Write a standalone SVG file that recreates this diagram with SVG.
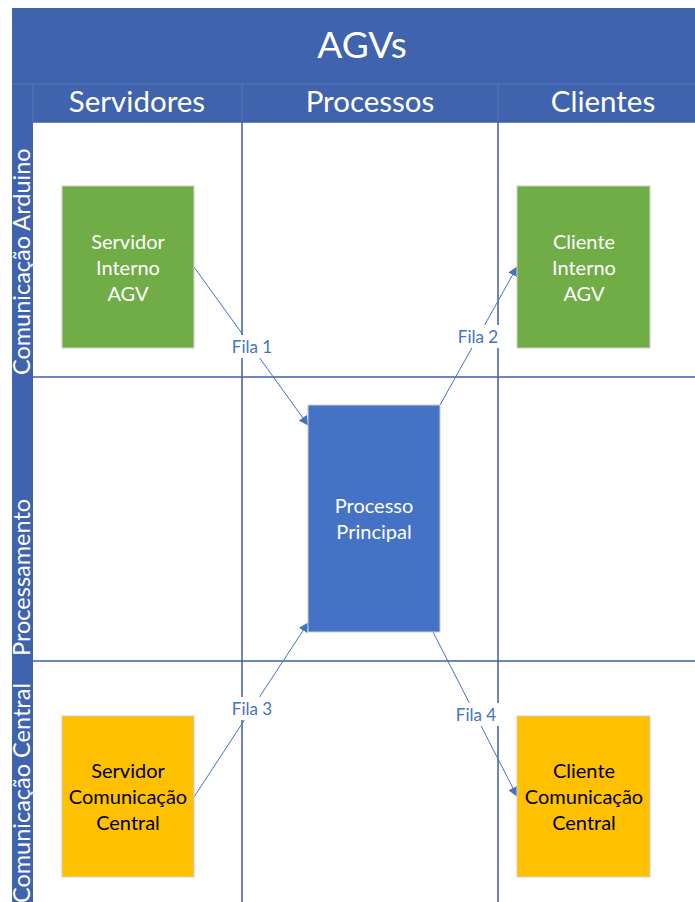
<svg xmlns="http://www.w3.org/2000/svg" width="695" height="902" viewBox="0 0 695 902">
  <style>
    .band { fill: #3F63AD; }
    .grid { stroke: #3F5EA6; stroke-width: 1.5; fill: none; }
    .hdrline { stroke: #5676BA; stroke-width: 1.2; }
    .title { font-family: Lato, "Liberation Sans", sans-serif; fill: #ffffff; text-anchor: middle; }
    .node rect { stroke: #D0D0D0; stroke-width: 1; }
    .ntext { font-family: Lato, "Liberation Sans", sans-serif; font-size: 20px; text-anchor: middle; }
    .conn { stroke: #4472C4; stroke-width: 1; fill: none; marker-end: url(#arrow); }
    .lbl { font-family: Lato, "Liberation Sans", sans-serif; font-size: 17px; fill: #4472C4; text-anchor: middle; }
  </style>
  <defs>
    <marker id="arrow" viewBox="0 0 10 10" refX="9" refY="5" markerWidth="10" markerHeight="10" markerUnits="userSpaceOnUse" orient="auto">
      <path d="M0,0 L10,5 L0,10 z" fill="#4472C4"/>
    </marker>
  </defs>

  <rect width="695" height="902" fill="#ffffff"/>

  <!-- pool header, column headers and lane header bands -->
  <g id="pool">
    <rect class="band" x="12" y="8" width="683" height="76"/>
    <rect class="band" x="12" y="84" width="683" height="38"/>
    <rect class="band" x="12" y="84" width="21" height="818"/>
    <line class="hdrline" x1="12" y1="84" x2="695" y2="84"/>
    <line class="hdrline" x1="33" y1="84" x2="33" y2="122"/>
    <line class="hdrline" x1="242" y1="84" x2="242" y2="122"/>
    <line class="hdrline" x1="498" y1="84" x2="498" y2="122"/>
    <text class="title" x="362" y="58" font-size="37">AGVs</text>
    <text class="title" x="137" y="112" font-size="29.5">Servidores</text>
    <text class="title" x="370" y="112" font-size="29.5">Processos</text>
    <text class="title" x="603" y="112" font-size="29.5">Clientes</text>
  </g>

  <!-- lane titles -->
  <g id="lanes" font-family="Lato, 'Liberation Sans', sans-serif" font-size="23.5" fill="#ffffff">
    <text transform="translate(30,375) rotate(-90)">Comunicação Arduino</text>
    <text transform="translate(30,656) rotate(-90)">Processamento</text>
    <text transform="translate(30,903) rotate(-90)">Comunicação Central</text>
  </g>

  <!-- lane / column grid -->
  <g id="grid">
    <line class="grid" x1="33" y1="122" x2="695" y2="122"/>
    <line class="grid" x1="33" y1="377" x2="695" y2="377"/>
    <line class="grid" x1="33" y1="661" x2="695" y2="661"/>
    <line class="grid" x1="242" y1="122" x2="242" y2="902"/>
    <line class="grid" x1="498" y1="122" x2="498" y2="902"/>
  </g>

  <!-- connectors -->
  <g id="connectors">
    <line class="conn" x1="194" y1="267" x2="308" y2="425"/>
    <line class="conn" x1="440" y1="405" x2="517" y2="267"/>
    <line class="conn" x1="194" y1="797" x2="308" y2="623"/>
    <line class="conn" x1="433" y1="632" x2="517" y2="796"/>
    <rect x="227" y="335" width="50" height="23" fill="#ffffff"/>
    <rect x="453" y="325" width="50" height="23" fill="#ffffff"/>
    <rect x="227" y="697" width="50" height="23" fill="#ffffff"/>
    <rect x="451" y="703" width="50" height="23" fill="#ffffff"/>
    <text class="lbl" x="252" y="353">Fila 1</text>
    <text class="lbl" x="478" y="343">Fila 2</text>
    <text class="lbl" x="252" y="715">Fila 3</text>
    <text class="lbl" x="476" y="721">Fila 4</text>
  </g>

  <!-- nodes -->
  <g id="servidor-interno" class="node">
    <rect x="62" y="186" width="132" height="162" fill="#70AD47"/>
    <text class="ntext" fill="#ffffff" x="128" y="249">Servidor</text>
    <text class="ntext" fill="#ffffff" x="128" y="275">Interno</text>
    <text class="ntext" fill="#ffffff" x="128" y="301">AGV</text>
  </g>
  <g id="cliente-interno" class="node">
    <rect x="517" y="186" width="133" height="162" fill="#70AD47"/>
    <text class="ntext" fill="#ffffff" x="584" y="249">Cliente</text>
    <text class="ntext" fill="#ffffff" x="584" y="275">Interno</text>
    <text class="ntext" fill="#ffffff" x="584" y="301">AGV</text>
  </g>
  <g id="processo-principal" class="node">
    <rect x="308" y="405" width="132" height="227" fill="#4472C4"/>
    <text class="ntext" fill="#ffffff" x="374" y="513">Processo</text>
    <text class="ntext" fill="#ffffff" x="374" y="539">Principal</text>
  </g>
  <g id="servidor-central" class="node">
    <rect x="62" y="716" width="132" height="161" fill="#FFC000"/>
    <text class="ntext" fill="#000000" x="128" y="778">Servidor</text>
    <text class="ntext" fill="#000000" x="128" y="804">Comunicação</text>
    <text class="ntext" fill="#000000" x="128" y="830">Central</text>
  </g>
  <g id="cliente-central" class="node">
    <rect x="517" y="716" width="133" height="161" fill="#FFC000"/>
    <text class="ntext" fill="#000000" x="584" y="778">Cliente</text>
    <text class="ntext" fill="#000000" x="584" y="804">Comunicação</text>
    <text class="ntext" fill="#000000" x="584" y="830">Central</text>
  </g>
</svg>
